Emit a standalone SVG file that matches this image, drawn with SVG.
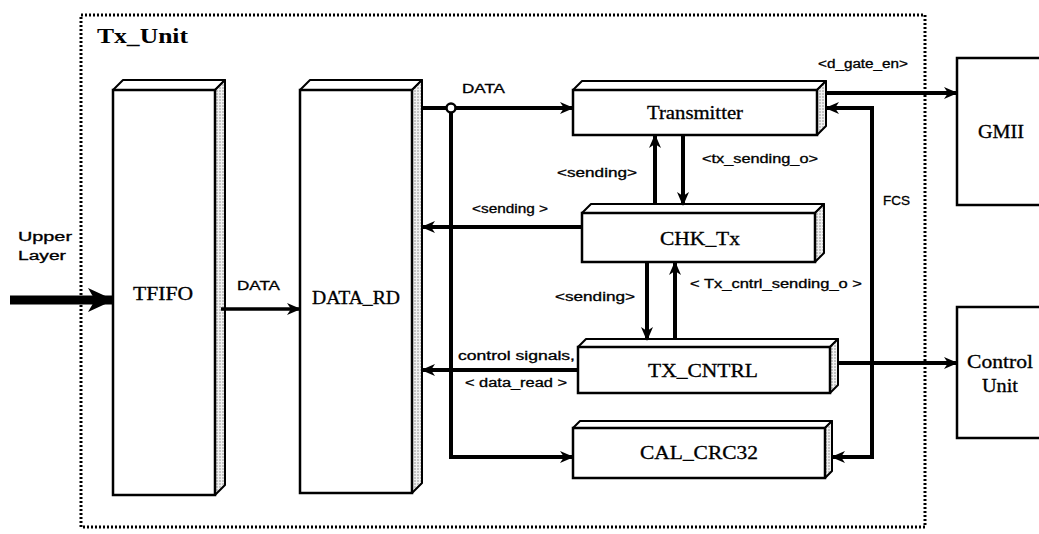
<svg xmlns="http://www.w3.org/2000/svg" width="1039" height="534" viewBox="0 0 1039 534">
  <style>
    .frame { fill: none; stroke: #000; stroke-width: 3; stroke-dasharray: 2 2; }
    .front { fill: #fff; stroke: #000; stroke-width: 2.5; }
    .top { fill: #fff; stroke: #000; stroke-width: 2; stroke-linejoin: round; }
    .side { fill: url(#stipple); stroke: #000; stroke-width: 2; stroke-linejoin: round; }
    .ext { fill: #fff; stroke: #000; stroke-width: 2.5; }
    .wire { fill: none; stroke: #000; stroke-width: 4; stroke-linejoin: miter; }
    .arrow { marker-end: url(#ah); }
    .lbl { font-family: "Liberation Sans", Arial, sans-serif; font-size: 12px; fill: #000; stroke: #000; stroke-width: 0.3; }
    .blk { font-family: "Liberation Serif", "Times New Roman", serif; font-size: 18px; fill: #000; stroke: #000; stroke-width: 0.3; text-anchor: middle; }
    .title { font-family: "Liberation Serif", "Times New Roman", serif; font-size: 20px; font-weight: bold; fill: #000; }
  </style>
  <defs>
    <pattern id="stipple" width="3" height="3" patternUnits="userSpaceOnUse">
      <rect width="3" height="3" fill="#f2f2f2"/>
      <circle cx="1" cy="1" r="0.7" fill="#777"/>
    </pattern>
    <marker id="ah" markerWidth="14" markerHeight="12" refX="13" refY="6" orient="auto" markerUnits="userSpaceOnUse">
      <path d="M0,0 L14,6 L0,12 L4,6 Z" fill="#000"/>
    </marker>
    <marker id="ahBig" markerWidth="26" markerHeight="24" refX="25" refY="12" orient="auto" markerUnits="userSpaceOnUse">
      <path d="M0,0 L26,12 L0,24 L7,12 Z" fill="#000"/>
    </marker>
  </defs>

  <!-- Tx_Unit boundary -->
  <g id="tx_unit">
    <rect class="frame" x="81" y="15" width="844" height="512"/>
    <text class="title" x="97" y="43" textLength="91" lengthAdjust="spacingAndGlyphs">Tx_Unit</text>
  </g>

  <!-- external label on the left -->
  <g id="upper_layer">
    <text class="lbl" x="45" y="241" text-anchor="middle" textLength="54" lengthAdjust="spacingAndGlyphs">Upper</text>
    <text class="lbl" x="42" y="260" text-anchor="middle" textLength="48" lengthAdjust="spacingAndGlyphs">Layer</text>
  </g>

  <g id="tfifo">
    <path class="top" d="M113,90 L123,80 L225,80 L215,90 Z"/>
    <path class="side" d="M215,90 L225,80 L225,485 L215,495 Z"/>
    <rect class="front" x="113" y="90" width="102" height="405"/>
    <text class="blk" x="163" y="300" textLength="60" lengthAdjust="spacingAndGlyphs">TFIFO</text>
  </g>

  <g id="data_rd">
    <path class="top" d="M300,90 L310,80 L422,80 L412,90 Z"/>
    <path class="side" d="M412,90 L422,80 L422,483 L412,493 Z"/>
    <rect class="front" x="300" y="90" width="112" height="403"/>
    <text class="blk" x="356" y="304" textLength="88" lengthAdjust="spacingAndGlyphs">DATA_RD</text>
  </g>

  <g id="transmitter">
    <path class="top" d="M573,90 L582,81 L826,81 L817,90 Z"/>
    <path class="side" d="M817,90 L826,81 L826,126 L817,135 Z"/>
    <rect class="front" x="573" y="90" width="244" height="45"/>
    <text class="blk" x="695" y="119" textLength="96" lengthAdjust="spacingAndGlyphs">Transmitter</text>
  </g>

  <g id="chk_tx">
    <path class="top" d="M582,213 L591,204 L824,204 L815,213 Z"/>
    <path class="side" d="M815,213 L824,204 L824,253 L815,262 Z"/>
    <rect class="front" x="582" y="213" width="233" height="49"/>
    <text class="blk" x="700" y="245" textLength="80" lengthAdjust="spacingAndGlyphs">CHK_Tx</text>
  </g>

  <g id="tx_cntrl">
    <path class="top" d="M578,347 L586,339 L838,339 L830,347 Z"/>
    <path class="side" d="M830,347 L838,339 L838,385 L830,393 Z"/>
    <rect class="front" x="578" y="347" width="252" height="46"/>
    <text class="blk" x="703" y="377" textLength="110" lengthAdjust="spacingAndGlyphs">TX_CNTRL</text>
  </g>

  <g id="cal_crc32">
    <path class="top" d="M573,428 L580,421 L832,421 L825,428 Z"/>
    <path class="side" d="M825,428 L832,421 L832,471 L825,478 Z"/>
    <rect class="front" x="573" y="428" width="252" height="50"/>
    <text class="blk" x="699" y="459" textLength="118" lengthAdjust="spacingAndGlyphs">CAL_CRC32</text>
  </g>

  <g id="gmii">
    <rect class="ext" x="957" y="58" width="100" height="147"/>
    <text class="blk" x="1001" y="138" textLength="46" lengthAdjust="spacingAndGlyphs">GMII</text>
  </g>

  <g id="control_unit">
    <rect class="ext" x="957" y="307" width="100" height="131"/>
    <text class="blk" x="1000" y="368" textLength="66" lengthAdjust="spacingAndGlyphs">Control</text>
    <text class="blk" x="1000" y="392" textLength="36" lengthAdjust="spacingAndGlyphs">Unit</text>
  </g>

  <!-- connectors -->
  <g id="connectors">
    <!-- input from upper layer -->
    <line x1="10" y1="300" x2="113" y2="300" stroke="#000" stroke-width="9" marker-end="url(#ahBig)"/>
    <!-- TFIFO to DATA_RD -->
    <line class="wire arrow" x1="221" y1="309" x2="300" y2="309" style="stroke-width:3.5"/>
    <!-- DATA bus -->
    <line class="wire arrow" x1="422" y1="108" x2="573" y2="108"/>
    <polyline class="wire arrow" points="451,112 451,457 573,457"/>
    <circle cx="451" cy="108" r="4.5" fill="#fff" stroke="#000" stroke-width="2.5"/>
    <!-- to GMII -->
    <line class="wire arrow" x1="826" y1="93" x2="957" y2="93"/>
    <!-- FCS feedback -->
    <polyline class="wire arrow" points="872,283 872,108 826,108"/>
    <polyline class="wire arrow" points="872,283 872,457 832,457"/>
    <!-- to Control Unit -->
    <line class="wire arrow" x1="838" y1="363" x2="957" y2="363"/>
    <!-- back to DATA_RD -->
    <line class="wire arrow" x1="582" y1="227" x2="422" y2="227"/>
    <line class="wire arrow" x1="578" y1="370" x2="422" y2="370"/>
    <!-- Transmitter / CHK_Tx -->
    <line class="wire arrow" x1="655" y1="205" x2="655" y2="135"/>
    <line class="wire arrow" x1="683" y1="135" x2="683" y2="205"/>
    <!-- CHK_Tx / TX_CNTRL -->
    <line class="wire arrow" x1="647" y1="262" x2="647" y2="340"/>
    <line class="wire arrow" x1="675" y1="340" x2="675" y2="262"/>
  </g>

  <!-- connector labels -->
  <g id="labels">
    <text class="lbl" x="462" y="93" textLength="43" lengthAdjust="spacingAndGlyphs">DATA</text>
    <text class="lbl" x="237" y="290" textLength="43" lengthAdjust="spacingAndGlyphs">DATA</text>
    <text class="lbl" x="818" y="68" textLength="90" lengthAdjust="spacingAndGlyphs">&lt;d_gate_en&gt;</text>
    <text class="lbl" x="557" y="177" textLength="80" lengthAdjust="spacingAndGlyphs">&lt;sending&gt;</text>
    <text class="lbl" x="702" y="163" textLength="116" lengthAdjust="spacingAndGlyphs">&lt;tx_sending_o&gt;</text>
    <text class="lbl" x="472" y="213" textLength="76" lengthAdjust="spacingAndGlyphs">&lt;sending &gt;</text>
    <text class="lbl" x="883" y="205" textLength="27" lengthAdjust="spacingAndGlyphs">FCS</text>
    <text class="lbl" x="555" y="301" textLength="80" lengthAdjust="spacingAndGlyphs">&lt;sending&gt;</text>
    <text class="lbl" x="690" y="288" textLength="172" lengthAdjust="spacingAndGlyphs">&lt; Tx_cntrl_sending_o &gt;</text>
    <text class="lbl" x="458" y="360" textLength="117" lengthAdjust="spacingAndGlyphs">control signals,</text>
    <text class="lbl" x="465" y="387" textLength="102" lengthAdjust="spacingAndGlyphs">&lt; data_read &gt;</text>
  </g>
</svg>
